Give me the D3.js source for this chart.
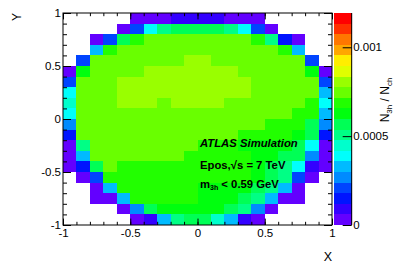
<!DOCTYPE html>
<html>
<head>
<meta charset="utf-8">
<script src="https://cdn.jsdelivr.net/npm/d3@7"></script>
<style>
  body { margin: 0; background: #fff; }
  svg text { font-family: "Liberation Sans", Arial, Helvetica, sans-serif; white-space: pre; }
</style>
</head>
<body>
<div id="chart"></div>
<script>
// lower edge of each x bin, upper edge of each y bin (rows are drawn top -> bottom)
const xLow = [-1, -0.9, -0.8, -0.7, -0.6, -0.5, -0.4, -0.3, -0.2, -0.1, 0, 0.1, 0.2, 0.3, 0.4, 0.5, 0.6, 0.7, 0.8, 0.9];
const yHigh = [1, 0.9, 0.8, 0.7, 0.6, 0.5, 0.4, 0.3, 0.2, 0.1, 0, -0.1, -0.2, -0.3, -0.4, -0.5, -0.6, -0.7, -0.8, -0.9];
const binW = 0.1;

const xTicks = [-1, -0.5, 0, 0.5, 1];
const yTicks = [-1, -0.5, 0, 0.5, 1];
const zTicks = [0, 5, 10];
const zTickLabels = ['0', '0.0005', '0.001'];
const zMax = 11.93;

// N3h / Nch per bin, in units of 1e-4 (null = empty bin)
const ratio = [
	[null, null, null, null, null, 0.3, 0.3, 0.2, 0.9, 0.9, 0.9, 0.8, 0.3, 0.3, 0.3, null, null, null, null, null],
	[null, null, null, null, 0.3, 2.1, 3.9, 5.1, 5.7, 5.6, 5.7, 5.7, 5.1, 3.9, 2.1, 0.4, null, null, null, null],
	[null, null, 0.3, 2.1, 5.7, 6.9, 7.4, 7.5, 7.5, 7.4, 7.5, 7.4, 7.5, 7.3, 6.9, 5.1, 1.5, 0.3, null, null],
	[null, null, 3.3, 6.9, 7.4, 7.5, 7.5, 7.6, 7.5, 7.4, 7.5, 7.5, 7.4, 7.5, 7.5, 7.4, 6.9, 3.3, null, null],
	[null, 2.1, 7.4, 7.5, 7.5, 7.6, 7.5, 7.4, 7.6, 8.0, 7.9, 7.5, 7.5, 7.4, 7.5, 7.5, 7.4, 7.5, 2.1, null],
	[0.3, 6.3, 7.5, 7.4, 7.5, 7.6, 8.0, 8.0, 7.9, 8.0, 8.0, 7.9, 7.9, 7.5, 7.6, 7.5, 7.4, 7.3, 6.3, 0.3],
	[2.1, 7.4, 7.5, 7.5, 8.0, 7.9, 8.0, 8.1, 8.0, 7.9, 8.0, 8.0, 7.9, 7.9, 7.6, 7.5, 7.5, 7.4, 7.3, 2.1],
	[3.9, 7.5, 7.6, 7.5, 7.9, 8.0, 8.0, 8.0, 7.9, 8.1, 8.0, 7.9, 8.0, 7.9, 7.5, 7.5, 7.5, 7.4, 7.3, 3.3],
	[4.5, 7.5, 7.5, 7.6, 7.9, 8.0, 7.9, 7.6, 8.0, 7.9, 7.9, 7.9, 7.6, 7.5, 7.5, 7.5, 7.4, 7.3, 6.9, 3.9],
	[3.9, 7.4, 7.5, 7.5, 7.6, 7.5, 7.6, 7.5, 7.5, 7.4, 7.5, 7.5, 7.4, 7.4, 7.5, 7.3, 7.3, 6.9, 6.8, 3.3],
	[2.7, 7.4, 7.5, 7.5, 7.5, 7.4, 7.5, 7.5, 7.4, 7.4, 7.4, 7.5, 7.3, 7.3, 7.2, 6.9, 6.9, 6.8, 5.7, 2.7],
	[1.5, 7.4, 7.5, 7.5, 7.4, 7.5, 7.5, 7.4, 7.4, 7.3, 7.3, 7.3, 7.2, 6.9, 6.9, 6.8, 6.9, 6.3, 5.7, 1.5],
	[0.3, 5.1, 7.5, 7.4, 7.5, 7.4, 7.4, 7.3, 7.3, 7.2, 7.0, 6.9, 6.9, 6.4, 6.3, 6.3, 6.2, 5.7, 3.9, 0.3],
	[0.3, 3.3, 7.4, 7.5, 7.4, 7.4, 7.3, 7.3, 7.2, 6.9, 6.9, 6.9, 6.8, 6.7, 6.3, 6.2, 5.7, 5.6, 2.7, 0.3],
	[0.3, 1.5, 5.7, 7.3, 6.9, 6.9, 6.9, 6.8, 6.9, 6.9, 6.8, 6.8, 6.7, 6.6, 6.3, 5.7, 5.1, 3.9, 0.9, 0.3],
	[null, 0.3, 2.1, 6.9, 6.9, 6.9, 6.8, 6.9, 6.8, 6.8, 6.9, 6.8, 6.7, 6.6, 6.3, 5.7, 5.1, 2.1, 0.3, null],
	[null, null, 0.3, 3.3, 6.9, 6.8, 6.9, 6.8, 6.8, 6.7, 6.4, 6.3, 6.3, 6.2, 5.7, 5.1, 3.3, 0.3, null, null],
	[null, null, 0.3, 0.3, 3.3, 6.9, 6.8, 6.8, 6.7, 6.7, 6.3, 6.3, 6.2, 5.7, 5.1, 3.3, 0.3, 0.3, null, null],
	[null, null, null, null, 0.3, 2.7, 5.7, 6.3, 6.3, 6.2, 6.3, 6.2, 5.7, 5.1, 2.7, 0.3, null, null, null, null],
	[null, null, null, null, null, 0.3, 0.9, 3.3, 5.1, 5.7, 5.7, 4.5, 3.3, 0.9, 0.3, null, null, null, null, null]
];

// ROOT "pretty" palette, 20 contour levels (violet -> red)
const palette = ['#6300ff', '#3300ff', '#0014ff', '#0044ff', '#008bff', '#00bbff', '#00fffc', '#00ffcc', '#00ff85', '#00ff55',
	'#00ff0e', '#22ff00', '#69ff00', '#99ff00', '#e0ff00', '#ffee00', '#ffa700', '#ff7700', '#ff3000', '#ff0000'];

const frame = { x0: 63, x1: 332, y0: 13, y1: 225 };
const bar = { x0: 333.5, x1: 351.7 };

const svg = d3.select('#chart')
	.append('svg')
	.attr('width', 399)
	.attr('height', 270);

const x = d3.scaleLinear().domain([-1, 1]).range([frame.x0, frame.x1]);
const y = d3.scaleLinear().domain([-1, 1]).range([frame.y1, frame.y0]);
const z = d3.scaleLinear().domain([0, zMax]).range([frame.y1, frame.y0]);
const color = d3.scaleQuantize().domain([0, zMax]).range(palette);

// histogram cells
const cells = [];
ratio.forEach((row, r) => row.forEach((v, c) => {
	if (v !== null) cells.push({ xl: xLow[c], yh: yHigh[r], v: v });
}));

svg.append('g')
	.selectAll('rect')
	.data(cells)
	.enter()
	.append('rect')
	.attr('x', d => x(d.xl))
	.attr('y', d => y(d.yh))
	.attr('width', d => x(d.xl + binW) - x(d.xl))
	.attr('height', d => y(d.yh - binW) - y(d.yh))
	.attr('fill', d => color(d.v))
	.attr('shape-rendering', 'crispEdges');

// axes, ticks pointing inwards on all four sides
function styleAxis(g) {
	g.select('.domain').remove();
	g.attr('font-size', 11.5).attr('font-family', null);
	g.selectAll('line').attr('stroke', '#000');
}

const minorX = x.ticks(20);
const minorY = y.ticks(20);

svg.append('g').attr('transform', `translate(0,${frame.y1})`)
	.call(d3.axisBottom(x).tickValues(minorX).tickSize(-3.2).tickFormat(''))
	.call(styleAxis);
svg.append('g').attr('transform', `translate(0,${frame.y1})`)
	.call(d3.axisBottom(x).tickValues(xTicks).tickSize(-6.4).tickPadding(4).tickFormat(d => String(d)))
	.call(styleAxis);
svg.append('g').attr('transform', `translate(0,${frame.y0})`)
	.call(d3.axisTop(x).tickValues(minorX).tickSize(-3.2).tickFormat(''))
	.call(styleAxis);
svg.append('g').attr('transform', `translate(0,${frame.y0})`)
	.call(d3.axisTop(x).tickValues(xTicks).tickSize(-6.4).tickFormat(''))
	.call(styleAxis);

svg.append('g').attr('transform', `translate(${frame.x0},0)`)
	.call(d3.axisLeft(y).tickValues(minorY).tickSize(-4).tickFormat(''))
	.call(styleAxis);
svg.append('g').attr('transform', `translate(${frame.x0},0)`)
	.call(d3.axisLeft(y).tickValues(yTicks).tickSize(-8).tickPadding(2).tickFormat(d => String(d)))
	.call(styleAxis);
svg.append('g').attr('transform', `translate(${frame.x1},0)`)
	.call(d3.axisRight(y).tickValues(minorY).tickSize(-4).tickFormat(''))
	.call(styleAxis);
svg.append('g').attr('transform', `translate(${frame.x1},0)`)
	.call(d3.axisRight(y).tickValues(yTicks).tickSize(-8).tickFormat(''))
	.call(styleAxis);

svg.append('rect')
	.attr('x', frame.x0)
	.attr('y', frame.y0)
	.attr('width', frame.x1 - frame.x0)
	.attr('height', frame.y1 - frame.y0)
	.attr('fill', 'none')
	.attr('stroke', '#000')
	.attr('stroke-width', 1);

// colour bar
svg.append('g')
	.selectAll('rect')
	.data(palette)
	.enter()
	.append('rect')
	.attr('x', bar.x0)
	.attr('width', bar.x1 - bar.x0)
	.attr('y', d => z(color.invertExtent(d)[1]))
	.attr('height', d => z(color.invertExtent(d)[0]) - z(color.invertExtent(d)[1]))
	.attr('fill', d => d)
	.attr('shape-rendering', 'crispEdges');

svg.append('g').attr('transform', `translate(${bar.x1},0)`)
	.call(d3.axisRight(z).tickValues(zTicks).tickSize(-9).tickPadding(1.5).tickFormat((d, i) => zTickLabels[i]))
	.call(styleAxis);
svg.append('line')
	.attr('x1', bar.x1).attr('x2', bar.x1)
	.attr('y1', frame.y0).attr('y2', frame.y1)
	.attr('stroke', '#000');

// axis titles
svg.append('text')
	.attr('x', frame.x1)
	.attr('y', 261)
	.attr('text-anchor', 'end')
	.attr('font-size', 12.5)
	.text('X');

svg.append('text')
	.attr('transform', `translate(21,${frame.y0}) rotate(-90)`)
	.attr('text-anchor', 'end')
	.attr('font-size', 12)
	.text('Y');

const zTitle = svg.append('text')
	.attr('transform', 'translate(389,100) rotate(-90)')
	.attr('text-anchor', 'middle')
	.attr('font-size', 12);
zTitle.append('tspan').text('N');
zTitle.append('tspan').attr('font-size', 8).attr('dy', 2.5).text('3h');
zTitle.append('tspan').attr('dy', -2.5).text(' / N');
zTitle.append('tspan').attr('font-size', 8).attr('dy', 2.5).text('ch');

// labels inside the frame
const label = svg.append('g')
	.attr('font-weight', 'bold')
	.attr('font-size', 11.3);

label.append('text')
	.attr('x', 200)
	.attr('y', 146.5)
	.attr('font-style', 'italic')
	.text('ATLAS Simulation');

label.append('text')
	.attr('x', 200)
	.attr('y', 168.5)
	.text('Epos,√s = 7 TeV');

const mass = label.append('text')
	.attr('x', 200)
	.attr('y', 188);
mass.append('tspan').text('m');
mass.append('tspan').attr('font-size', 7).attr('dy', 2).text('3h');
mass.append('tspan').attr('dy', -2).text(' < 0.59 GeV');
</script>
</body>
</html>
